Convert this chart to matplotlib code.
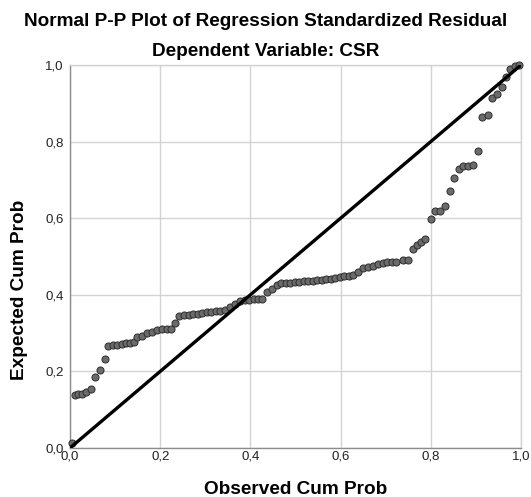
import matplotlib
matplotlib.use("Agg")
import matplotlib.pyplot as plt
from matplotlib.ticker import FixedLocator, FixedFormatter

# Observed cumulative probability (x) and expected cumulative probability (y)
observed = [
    0.004,
    0.010, 0.018, 0.027, 0.035,
    0.047, 0.055, 0.067, 0.078,
    0.085, 0.095, 0.105, 0.115, 0.124, 0.133, 0.142,
    0.149, 0.159, 0.170, 0.181, 0.192, 0.203, 0.214, 0.224,
    0.233, 0.242,
    0.253, 0.263, 0.273, 0.283, 0.293, 0.303, 0.313, 0.323, 0.333, 0.343,
    0.355, 0.366,
    0.377, 0.387, 0.397, 0.407, 0.417, 0.426,
    0.437, 0.447, 0.458,
    0.468, 0.478, 0.488, 0.498, 0.508, 0.518, 0.528, 0.538, 0.548, 0.558,
    0.568, 0.578, 0.588, 0.598, 0.608, 0.618,
    0.627, 0.639, 0.650, 0.661, 0.672, 0.683,
    0.693, 0.703, 0.713, 0.723,
    0.738, 0.749,
    0.760, 0.769, 0.778, 0.788,
    0.800, 0.809, 0.820, 0.831,
    0.843, 0.852, 0.863, 0.872, 0.882, 0.893,
    0.905, 0.913, 0.926, 0.935, 0.946, 0.957, 0.966, 0.976, 0.987, 0.996,
]
expected = [
    0.013,
    0.138, 0.140, 0.142, 0.145,
    0.153, 0.185, 0.204, 0.232,
    0.266, 0.268, 0.270, 0.272, 0.273, 0.274, 0.276,
    0.289, 0.292, 0.299, 0.304, 0.308, 0.310, 0.311, 0.312,
    0.327, 0.345,
    0.347, 0.348, 0.350, 0.351, 0.353, 0.354, 0.356, 0.357, 0.359, 0.360,
    0.367, 0.376,
    0.383, 0.386, 0.387, 0.388, 0.389, 0.390,
    0.408, 0.414, 0.426,
    0.430, 0.431, 0.432, 0.433, 0.434, 0.435, 0.436, 0.437, 0.438, 0.439,
    0.440, 0.442, 0.444, 0.446, 0.448, 0.450,
    0.452, 0.460, 0.469, 0.472, 0.476, 0.480,
    0.484, 0.485, 0.485, 0.486,
    0.491, 0.492,
    0.519, 0.530, 0.539, 0.546,
    0.598, 0.619, 0.619, 0.633,
    0.670, 0.704, 0.728, 0.735, 0.737, 0.739,
    0.776, 0.863, 0.869, 0.913, 0.923, 0.943, 0.969, 0.990, 0.998, 1.000,
]
ref_line = [0.0, 1.0]
tick_vals = [0.0, 0.2, 0.4, 0.6, 0.8, 1.0]
tick_labels = ["0,0", "0,2", "0,4", "0,6", "0,8", "1,0"]

title = "Normal P-P Plot of Regression Standardized Residual"
subtitle = "Dependent Variable: CSR"
xlabel = "Observed Cum Prob"
ylabel = "Expected Cum Prob"

plt.rcParams['font.family'] = ['Liberation Sans', 'DejaVu Sans']

W, H = 531, 497
fig = plt.figure(figsize=(W / 100, H / 100), dpi=100)
ax = fig.add_axes([70 / W, 1 - 448 / H, (521 - 70) / W, (448 - 65) / H])

ax.set_xlim(0, 1)
ax.set_ylim(0, 1)
ax.xaxis.set_major_locator(FixedLocator(tick_vals))
ax.xaxis.set_major_formatter(FixedFormatter(tick_labels))
ax.yaxis.set_major_locator(FixedLocator(tick_vals))
ax.yaxis.set_major_formatter(FixedFormatter(tick_labels))
ax.grid(True, color='#d3d3d3', linewidth=1.0, zorder=0)
ax.tick_params(length=0, labelsize=9.5, colors='#222222')
ax.tick_params(axis='y', pad=4.5)
ax.tick_params(axis='x', pad=1.5)

for side in ['top', 'right']:
    ax.spines[side].set_color('#d3d3d3')
    ax.spines[side].set_linewidth(1.0)
for side in ['left', 'bottom']:
    ax.spines[side].set_color('#8c8c8c')
    ax.spines[side].set_linewidth(1.0)

ax.scatter(observed, expected, s=26, facecolor='#6b6b6b', edgecolor='#2e2e2e',
           linewidth=0.7, zorder=3, clip_on=False)
ax.plot(ref_line, ref_line, color='black', linewidth=2.4, zorder=4,
        solid_capstyle='butt')

fig.text(0.5, 1 - 21 / H, title, ha='center', va='center', fontsize=13.7,
         fontweight='bold')
fig.text(0.5, 1 - 52 / H, subtitle, ha='center', va='center', fontsize=13.7,
         fontweight='bold')
fig.text((70 + 521) / 2 / W, 1 - 490 / H, xlabel, ha='center', va='center',
         fontsize=13.7, fontweight='bold')
fig.text(20 / W, 1 - 290 / H, ylabel, ha='center', va='center',
         fontsize=13.7, fontweight='bold', rotation=90)

fig.savefig("out.png", dpi=100)
